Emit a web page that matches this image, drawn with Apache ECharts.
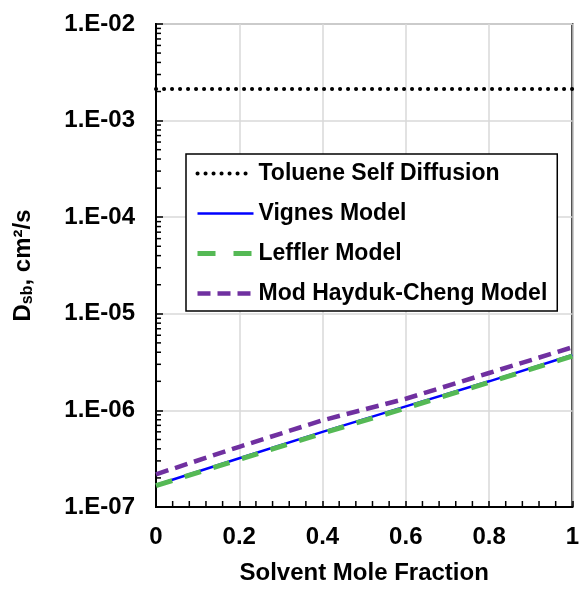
<!DOCTYPE html>
<html>
<head>
<meta charset="utf-8">
<script src="https://cdn.jsdelivr.net/npm/echarts@6/dist/echarts.min.js"></script>
<style>html,body{margin:0;padding:0;background:#fff}#c{width:582px;height:590px}</style>
</head>
<body>
<div id="c"></div>
<script>
const xValues = [0, 0.2, 0.4, 0.6, 0.8, 1.0];
const toluene = [2.13e-3, 2.13e-3, 2.13e-3, 2.13e-3, 2.13e-3, 2.13e-3];
const vignes = [1.69e-7, 3.2e-7, 6.0e-7, 1.1e-6, 2.0e-6, 3.75e-6];
const leffler = [1.66e-7, 3.1e-7, 5.8e-7, 1.06e-6, 1.95e-6, 3.65e-6];
const hayduk = [2.18e-7, 4.2e-7, 7.9e-7, 1.32e-6, 2.44e-6, 4.5e-6];
const seriesNames = ['Toluene Self Diffusion', 'Vignes Model', 'Leffler Model', 'Mod Hayduk-Cheng Model'];
const yMinorTicks = [];
for (let e = -7; e <= -3; e++) for (let m = 2; m <= 9; m++) yMinorTicks.push(m * Math.pow(10, e));
const xMinorTicks = [];
for (let i = 1; i < 25; i++) if (i % 5 !== 0) xMinorTicks.push(i * 0.04);

const FONT = '"Liberation Sans", Arial, sans-serif';
const pair = arr => xValues.map((x, i) => [x, arr[i]]);

const legendStyles = [
  {width: 4, type: [0.1, 7.9], cap: 'round'},
  {width: 2.5},
  {width: 5, type: [18, 18], cap: 'butt'},
  {width: 4.5, type: [13, 7], cap: 'butt'}
];

const chart = echarts.init(document.getElementById('c'), null, {renderer: 'canvas'});
chart.setOption({
  animation: false,
  backgroundColor: '#fff',
  grid: {left: 156, right: 6, top: 24, bottom: 77, show: true, borderColor: '#000', borderWidth: 2, backgroundColor: 'transparent'},
  legend: {
    orient: 'vertical', left: 186, top: 154,
    width: 373,
    backgroundColor: '#fff', borderColor: '#000', borderWidth: 1.5,
    padding: [8, 10, 6, 9],
    itemGap: 17, itemWidth: 56, itemHeight: 20,
    itemStyle: {opacity: 0},
    textStyle: {fontFamily: FONT, fontWeight: 'bold', fontSize: 23, color: '#000'},
    data: seriesNames.map((n, i) => ({name: n, lineStyle: legendStyles[i]}))
  },
  xAxis: {
    type: 'value', min: 0, max: 1, interval: 0.2,
    axisLine: {lineStyle: {color: '#000', width: 2}},
    axisTick: {show: true, inside: true, length: 6, lineStyle: {color: '#000', width: 1.5}},
    minorTick: {show: false},
    splitLine: {show: true, lineStyle: {color: '#d9d9d9', width: 1.5}},
    axisLabel: {margin: 18, fontFamily: FONT, fontWeight: 'bold', fontSize: 24, color: '#000', formatter: v => String(+v.toFixed(1))},
    name: 'Solvent Mole Fraction', nameLocation: 'middle', nameGap: 54,
    nameTextStyle: {fontFamily: FONT, fontWeight: 'bold', fontSize: 24, color: '#000'}
  },
  yAxis: {
    type: 'log', logBase: 10, min: 1e-7, max: 1e-2, interval: 1,
    axisLine: {lineStyle: {color: '#000', width: 2}},
    axisTick: {show: true, inside: true, length: 7, lineStyle: {color: '#000', width: 1.5}},
    minorTick: {show: false},
    splitLine: {show: true, lineStyle: {color: '#d9d9d9', width: 1.5}},
    axisLabel: {margin: 21, fontFamily: FONT, fontWeight: 'bold', fontSize: 24, color: '#000',
      formatter: v => { const e = Math.round(Math.log10(v)); const a = Math.abs(e); return '1.E' + (e < 0 ? '-' : '+') + (a < 10 ? '0' : '') + a; }},
    name: '{a|D}{b|sb}{a|, cm²/s}', nameLocation: 'middle', nameGap: 120, nameRotate: 90,
    nameTextStyle: {fontFamily: FONT, fontWeight: 'bold', fontSize: 24, color: '#000',
      rich: {a: {fontFamily: FONT, fontWeight: 'bold', fontSize: 24, color: '#000'},
             b: {fontFamily: FONT, fontWeight: 'bold', fontSize: 16, color: '#000', padding: [10, 0, 0, 0]}}}
  },
  series: [
    {name: seriesNames[0], type: 'line', data: pair(toluene), symbol: 'none', z: 3,
     lineStyle: {color: '#000', width: 4, type: [0.1, 7.9], cap: 'round'}, itemStyle: {color: '#000'}},
    {name: seriesNames[1], type: 'line', data: pair(vignes), symbol: 'none', z: 4,
     lineStyle: {color: '#0000ff', width: 2.5}, itemStyle: {color: '#0000ff'}},
    {name: seriesNames[2], type: 'line', data: pair(leffler), symbol: 'none', z: 5,
     lineStyle: {color: '#55b955', width: 5, type: [17, 13], cap: 'butt'}, itemStyle: {color: '#55b955'}},
    {name: seriesNames[3], type: 'line', data: pair(hayduk), symbol: 'none', z: 6,
     lineStyle: {color: '#7030a0', width: 4.5, type: [13, 7], cap: 'butt'}, itemStyle: {color: '#7030a0'}},
    {type: 'custom', silent: true, z: 10, data: yMinorTicks.map(v => [0, v]),
     renderItem: (params, api) => {
       const p = api.coord([0, api.value(1)]);
       return {type: 'line', shape: {x1: p[0], y1: p[1], x2: p[0] + 5, y2: p[1]}, style: {stroke: '#000', lineWidth: 1.5}};
     }},
    {type: 'custom', silent: true, z: 10, data: xMinorTicks.map(v => [v, 1e-7]),
     renderItem: (params, api) => {
       const p = api.coord([api.value(0), 1e-7]);
       return {type: 'line', shape: {x1: p[0], y1: p[1], x2: p[0], y2: p[1] - 6}, style: {stroke: '#000', lineWidth: 1.5}};
     }}
  ]
});
</script>
</body>
</html>
